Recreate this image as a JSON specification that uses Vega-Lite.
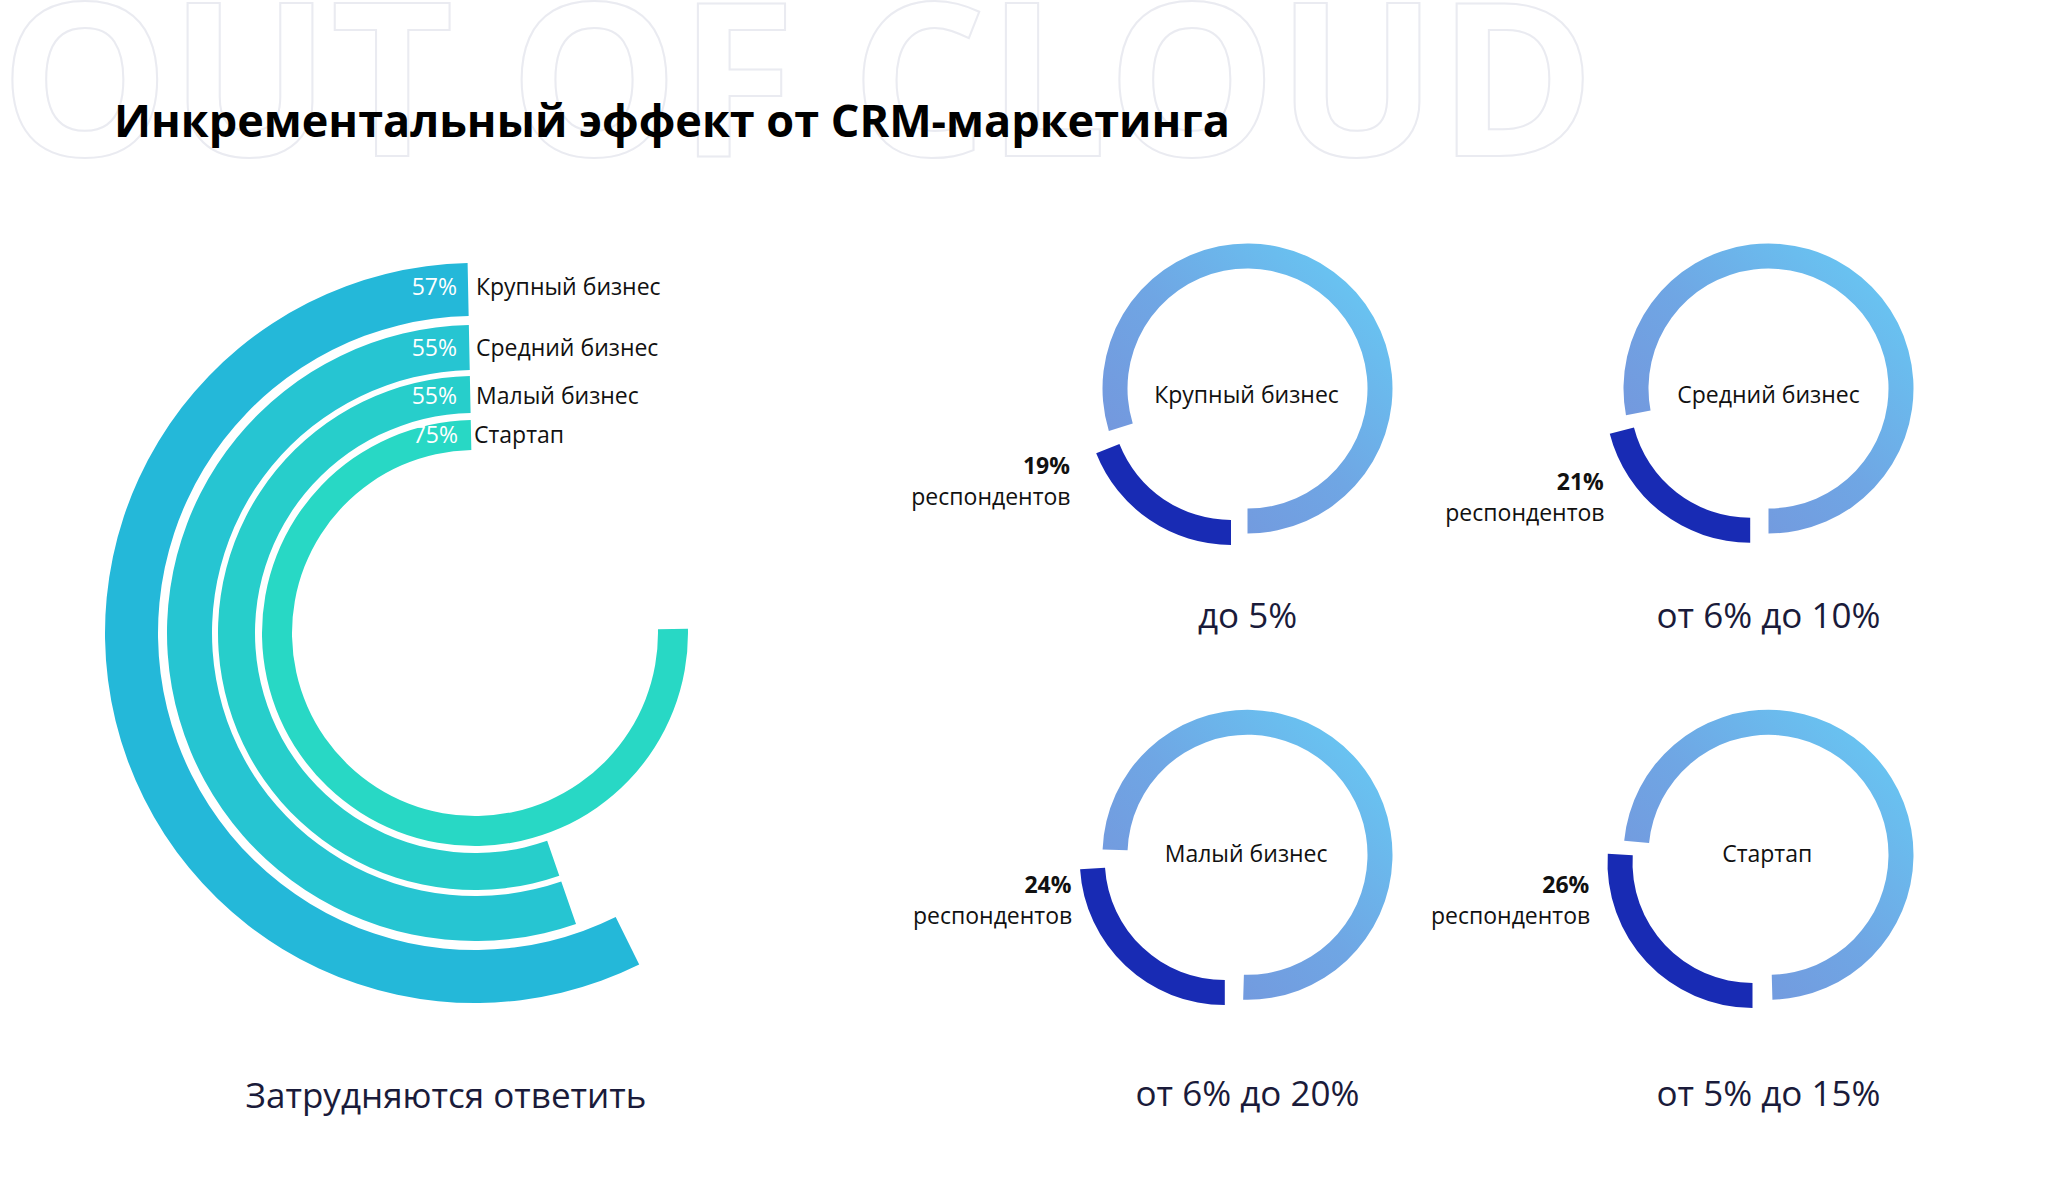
{
  "$schema": "https://vega.github.io/schema/vega-lite/v6.json",
  "padding": {"left": 0, "top": 0, "right": 0, "bottom": 40},
  "background": "#ffffff",
  "config": {"view": {"stroke": null}, "font": "Open Sans"},
  "datasets": {
    "headings": [
      {"kind": "watermark", "text": "OUT OF CLOUD"},
      {"kind": "title", "text": "Инкрементальный эффект от CRM-маркетинга"}
    ],
    "rings": [
      {"segment": "Крупный бизнес", "share": 0.57, "answer": "Затрудняются ответить"},
      {"segment": "Средний бизнес", "share": 0.55, "answer": "Затрудняются ответить"},
      {"segment": "Малый бизнес", "share": 0.55, "answer": "Затрудняются ответить"},
      {"segment": "Стартап", "share": 0.75, "answer": "Затрудняются ответить"}
    ],
    "donuts": [
      {"segment": "Крупный бизнес", "effect": "до 5%", "group": "выбрали", "share": 0.19},
      {"segment": "Крупный бизнес", "effect": "до 5%", "group": "остальные", "share": 0.81},
      {"segment": "Средний бизнес", "effect": "от 6% до 10%", "group": "выбрали", "share": 0.21},
      {"segment": "Средний бизнес", "effect": "от 6% до 10%", "group": "остальные", "share": 0.79},
      {"segment": "Малый бизнес", "effect": "от 6% до 20%", "group": "выбрали", "share": 0.24},
      {"segment": "Малый бизнес", "effect": "от 6% до 20%", "group": "остальные", "share": 0.76},
      {"segment": "Стартап", "effect": "от 5% до 15%", "group": "выбрали", "share": 0.26},
      {"segment": "Стартап", "effect": "от 5% до 15%", "group": "остальные", "share": 0.74}
    ]
  },
  "spacing": 0,
  "bounds": "flush",
  "vconcat": [
    {
      "width": 2048,
      "height": 170,
      "data": {"name": "headings"},
      "encoding": {
        "x": {"field": "kind", "type": "nominal", "axis": null,
              "scale": {"type": "point", "domain": ["watermark", "title"], "range": [0, 114], "padding": 0}},
        "y": {"field": "kind", "type": "nominal", "axis": null,
              "scale": {"type": "point", "domain": ["watermark", "title"], "range": [156, 137], "padding": 0}},
        "text": {"field": "text", "type": "nominal"}
      },
      "layer": [
        {
          "transform": [{"filter": "datum.kind === 'watermark'"}],
          "mark": {"type": "text", "align": "left", "baseline": "alphabetic", "fontSize": 213, "fontWeight": "bold",
                   "fill": "#ffffff", "stroke": "#EAEBF1", "strokeWidth": 2, "clip": true}
        },
        {
          "transform": [{"filter": "datum.kind === 'title'"}],
          "mark": {"type": "text", "align": "left", "baseline": "alphabetic", "fontSize": 45, "fontWeight": "bold", "fill": "#000000"}
        }
      ]
    },
    {
      "spacing": 57.5,
      "bounds": "flush",
      "hconcat": [
        {
          "width": 950,
          "height": 926,
          "data": {"name": "rings"},
          "layer": [
            {
              "transform": [{"filter": "datum.segment === 'Крупный бизнес'"}],
              "layer": [
                {"mark": {"type": "arc", "radius": 370, "radius2": 317, "thetaOffset": -0.02, "theta2Offset": -0.02},
                 "encoding": {
                   "theta": {"field": "share", "type": "quantitative", "scale": {"domain": [0, 1], "range": [6.283185, 0]}},
                   "color": {"field": "segment", "type": "nominal", "legend": null,
                             "scale": {"domain": ["Крупный бизнес", "Средний бизнес", "Малый бизнес", "Стартап"], "range": ["#24B8D9", "#26C5D2", "#27CECB", "#28D8C5"]}}
                 }},
                {"mark": {"type": "text", "align": "right", "baseline": "alphabetic", "dx": -18, "dy": -338, "fontSize": 23, "fill": "#ffffff"},
                 "encoding": {"text": {"field": "share", "type": "quantitative", "format": ".0%"}}},
                {"mark": {"type": "text", "align": "left", "baseline": "alphabetic", "dx": 1, "dy": -338, "fontSize": 23, "fill": "#111111"},
                 "encoding": {"text": {"field": "segment", "type": "nominal"}}}
              ]
            },
            {
              "transform": [{"filter": "datum.segment === 'Средний бизнес'"}],
              "layer": [
                {"mark": {"type": "arc", "radius": 308, "radius2": 263, "thetaOffset": -0.02, "theta2Offset": -0.02},
                 "encoding": {
                   "theta": {"field": "share", "type": "quantitative", "scale": {"domain": [0, 1], "range": [6.283185, 0]}},
                   "color": {"field": "segment", "type": "nominal", "legend": null}
                 }},
                {"mark": {"type": "text", "align": "right", "baseline": "alphabetic", "dx": -18, "dy": -277, "fontSize": 23, "fill": "#ffffff"},
                 "encoding": {"text": {"field": "share", "type": "quantitative", "format": ".0%"}}},
                {"mark": {"type": "text", "align": "left", "baseline": "alphabetic", "dx": 1, "dy": -277, "fontSize": 23, "fill": "#111111"},
                 "encoding": {"text": {"field": "segment", "type": "nominal"}}}
              ]
            },
            {
              "transform": [{"filter": "datum.segment === 'Малый бизнес'"}],
              "layer": [
                {"mark": {"type": "arc", "radius": 257, "radius2": 220, "thetaOffset": -0.02, "theta2Offset": -0.02},
                 "encoding": {
                   "theta": {"field": "share", "type": "quantitative", "scale": {"domain": [0, 1], "range": [6.283185, 0]}},
                   "color": {"field": "segment", "type": "nominal", "legend": null}
                 }},
                {"mark": {"type": "text", "align": "right", "baseline": "alphabetic", "dx": -18, "dy": -229, "fontSize": 23, "fill": "#ffffff"},
                 "encoding": {"text": {"field": "share", "type": "quantitative", "format": ".0%"}}},
                {"mark": {"type": "text", "align": "left", "baseline": "alphabetic", "dx": 1, "dy": -229, "fontSize": 23, "fill": "#111111"},
                 "encoding": {"text": {"field": "segment", "type": "nominal"}}}
              ]
            },
            {
              "transform": [{"filter": "datum.segment === 'Стартап'"}],
              "layer": [
                {"mark": {"type": "arc", "radius": 213, "radius2": 183, "thetaOffset": -0.02, "theta2Offset": -0.02},
                 "encoding": {
                   "theta": {"field": "share", "type": "quantitative", "scale": {"domain": [0, 1], "range": [6.283185, 0]}},
                   "color": {"field": "segment", "type": "nominal", "legend": null}
                 }},
                {"mark": {"type": "text", "align": "right", "baseline": "alphabetic", "dx": -17, "dy": -190, "fontSize": 23, "fill": "#ffffff"},
                 "encoding": {"text": {"field": "share", "type": "quantitative", "format": ".0%"}}},
                {"mark": {"type": "text", "align": "left", "baseline": "alphabetic", "dx": -1, "dy": -190, "fontSize": 23, "fill": "#111111"},
                 "encoding": {"text": {"field": "segment", "type": "nominal"}}}
              ]
            },
            {
              "transform": [{"aggregate": [{"op": "count", "as": "n"}], "groupby": ["answer"]}],
              "mark": {"type": "text", "dx": -29, "dy": 463.5, "baseline": "middle", "fontSize": 35, "fill": "#1A1B3A"},
              "encoding": {"text": {"field": "answer", "type": "nominal"}}
            }
          ]
        },
        {
          "spacing": 1.3,
          "bounds": "full",
          "vconcat": [
            {
              "spacing": 41,
              "bounds": "flush",
              "hconcat": [
                {
                  "width": 480, "height": 437,
                  "data": {"name": "donuts"},
                  "transform": [
                    {"filter": "datum.segment === 'Крупный бизнес'"},
                    {"stack": "share", "groupby": ["segment"], "sort": [{"field": "group", "order": "ascending"}], "as": ["start", "end"]}
                  ],
                  "encoding": {
                    "theta": {"field": "start", "type": "quantitative", "stack": null, "scale": {"domain": [0, 1], "range": [3.141593, 9.424778]}},
                    "theta2": {"field": "end"}
                  },
                  "layer": [
                    {"transform": [{"filter": "datum.group === 'остальные'"}],
                     "mark": {"type": "arc", "radius": 145, "radius2": 120, "thetaOffset": 0.08,
                              "fill": {"gradient": "linear", "x1": 1, "y1": 0, "x2": 0, "y2": 1,
                                       "stops": [{"offset": 0, "color": "#66CEF6"}, {"offset": 0.5, "color": "#6FA6E4"}, {"offset": 1, "color": "#7690DA"}]}}},
                    {"transform": [{"filter": "datum.group === 'выбрали'"}],
                     "layer": [
                       {"mark": {"type": "arc", "radius": 145, "radius2": 120, "xOffset": -16.5, "yOffset": 11.4, "fill": "#182BB4"}},
                       {"mark": {"type": "text", "baseline": "alphabetic", "dx": -1, "dy": 14.7, "fontSize": 23, "fill": "#111111"},
                        "encoding": {"text": {"field": "segment", "type": "nominal"}, "theta": null, "theta2": null}},
                       {"mark": {"type": "text", "baseline": "middle", "dx": 0, "dy": 228.5, "fontSize": 35, "fill": "#1A1B3A"},
                        "encoding": {"text": {"field": "effect", "type": "nominal"}, "theta": null, "theta2": null}},
                       {"mark": {"type": "text", "align": "right", "baseline": "alphabetic", "dx": -177.5, "dy": 85.4, "fontSize": 23, "fontWeight": "bold", "fill": "#111111"},
                        "encoding": {"text": {"field": "share", "type": "quantitative", "format": ".0%"}, "theta": null, "theta2": null}},
                       {"mark": {"type": "text", "align": "right", "baseline": "alphabetic", "dx": -177, "dy": 116.4, "fontSize": 23, "fill": "#111111"},
                        "encoding": {"text": {"value": "респондентов"}, "theta": null, "theta2": null}}
                     ]}
                  ]
                },
                {
                  "width": 480, "height": 437,
                  "data": {"name": "donuts"},
                  "transform": [
                    {"filter": "datum.segment === 'Средний бизнес'"},
                    {"stack": "share", "groupby": ["segment"], "sort": [{"field": "group", "order": "ascending"}], "as": ["start", "end"]}
                  ],
                  "encoding": {
                    "theta": {"field": "start", "type": "quantitative", "stack": null, "scale": {"domain": [0, 1], "range": [3.141593, 9.424778]}},
                    "theta2": {"field": "end"}
                  },
                  "layer": [
                    {"transform": [{"filter": "datum.group === 'остальные'"}],
                     "mark": {"type": "arc", "radius": 145, "radius2": 120, "thetaOffset": 0.066,
                              "fill": {"gradient": "linear", "x1": 1, "y1": 0, "x2": 0, "y2": 1,
                                       "stops": [{"offset": 0, "color": "#66CEF6"}, {"offset": 0.5, "color": "#6FA6E4"}, {"offset": 1, "color": "#7690DA"}]}}},
                    {"transform": [{"filter": "datum.group === 'выбрали'"}],
                     "layer": [
                       {"mark": {"type": "arc", "radius": 145, "radius2": 120, "xOffset": -18.3, "yOffset": 9.2, "fill": "#182BB4"}},
                       {"mark": {"type": "text", "baseline": "alphabetic", "dx": 0, "dy": 14.4, "fontSize": 23, "fill": "#111111"},
                        "encoding": {"text": {"field": "segment", "type": "nominal"}, "theta": null, "theta2": null}},
                       {"mark": {"type": "text", "baseline": "middle", "dx": 0, "dy": 228.5, "fontSize": 35, "fill": "#1A1B3A"},
                        "encoding": {"text": {"field": "effect", "type": "nominal"}, "theta": null, "theta2": null}},
                       {"mark": {"type": "text", "align": "right", "baseline": "alphabetic", "dx": -164.7, "dy": 101.7, "fontSize": 23, "fontWeight": "bold", "fill": "#111111"},
                        "encoding": {"text": {"field": "share", "type": "quantitative", "format": ".0%"}, "theta": null, "theta2": null}},
                       {"mark": {"type": "text", "align": "right", "baseline": "alphabetic", "dx": -164, "dy": 132.7, "fontSize": 23, "fill": "#111111"},
                        "encoding": {"text": {"value": "респондентов"}, "theta": null, "theta2": null}}
                     ]}
                  ]
                }
              ]
            },
            {
              "spacing": 41,
              "bounds": "flush",
              "hconcat": [
                {
                  "width": 480, "height": 437,
                  "data": {"name": "donuts"},
                  "transform": [
                    {"filter": "datum.segment === 'Малый бизнес'"},
                    {"stack": "share", "groupby": ["segment"], "sort": [{"field": "group", "order": "ascending"}], "as": ["start", "end"]}
                  ],
                  "encoding": {
                    "theta": {"field": "start", "type": "quantitative", "stack": null, "scale": {"domain": [0, 1], "range": [3.141593, 9.424778]}},
                    "theta2": {"field": "end"}
                  },
                  "layer": [
                    {"transform": [{"filter": "datum.group === 'остальные'"}],
                     "mark": {"type": "arc", "radius": 145, "radius2": 120, "thetaOffset": 0.1, "theta2Offset": 0.03,
                              "fill": {"gradient": "linear", "x1": 1, "y1": 0, "x2": 0, "y2": 1,
                                       "stops": [{"offset": 0, "color": "#66CEF6"}, {"offset": 0.5, "color": "#6FA6E4"}, {"offset": 1, "color": "#7690DA"}]}}},
                    {"transform": [{"filter": "datum.group === 'выбрали'"}],
                     "layer": [
                       {"mark": {"type": "arc", "radius": 145, "radius2": 120, "xOffset": -22.7, "yOffset": 5.3, "fill": "#182BB4"}},
                       {"mark": {"type": "text", "baseline": "alphabetic", "dx": -1.4, "dy": 6.7, "fontSize": 23, "fill": "#111111"},
                        "encoding": {"text": {"field": "segment", "type": "nominal"}, "theta": null, "theta2": null}},
                       {"mark": {"type": "text", "baseline": "middle", "dx": 0, "dy": 240.5, "fontSize": 35, "fill": "#1A1B3A"},
                        "encoding": {"text": {"field": "effect", "type": "nominal"}, "theta": null, "theta2": null}},
                       {"mark": {"type": "text", "align": "right", "baseline": "alphabetic", "dx": -176, "dy": 38, "fontSize": 23, "fontWeight": "bold", "fill": "#111111"},
                        "encoding": {"text": {"field": "share", "type": "quantitative", "format": ".0%"}, "theta": null, "theta2": null}},
                       {"mark": {"type": "text", "align": "right", "baseline": "alphabetic", "dx": -175.3, "dy": 69, "fontSize": 23, "fill": "#111111"},
                        "encoding": {"text": {"value": "респондентов"}, "theta": null, "theta2": null}}
                     ]}
                  ]
                },
                {
                  "width": 480, "height": 437,
                  "data": {"name": "donuts"},
                  "transform": [
                    {"filter": "datum.segment === 'Стартап'"},
                    {"stack": "share", "groupby": ["segment"], "sort": [{"field": "group", "order": "ascending"}], "as": ["start", "end"]}
                  ],
                  "encoding": {
                    "theta": {"field": "start", "type": "quantitative", "stack": null, "scale": {"domain": [0, 1], "range": [3.141593, 9.424778]}},
                    "theta2": {"field": "end"}
                  },
                  "layer": [
                    {"transform": [{"filter": "datum.group === 'остальные'"}],
                     "mark": {"type": "arc", "radius": 145, "radius2": 120, "thetaOffset": 0.035, "theta2Offset": -0.027,
                              "fill": {"gradient": "linear", "x1": 1, "y1": 0, "x2": 0, "y2": 1,
                                       "stops": [{"offset": 0, "color": "#66CEF6"}, {"offset": 0.5, "color": "#6FA6E4"}, {"offset": 1, "color": "#7690DA"}]}}},
                    {"transform": [{"filter": "datum.group === 'выбрали'"}],
                     "layer": [
                       {"mark": {"type": "arc", "radius": 145, "radius2": 120, "xOffset": -16, "yOffset": 8.1, "fill": "#182BB4"}},
                       {"mark": {"type": "text", "baseline": "alphabetic", "dx": -1.3, "dy": 7.3, "fontSize": 23, "fill": "#111111"},
                        "encoding": {"text": {"field": "segment", "type": "nominal"}, "theta": null, "theta2": null}},
                       {"mark": {"type": "text", "baseline": "middle", "dx": 0, "dy": 240.5, "fontSize": 35, "fill": "#1A1B3A"},
                        "encoding": {"text": {"field": "effect", "type": "nominal"}, "theta": null, "theta2": null}},
                       {"mark": {"type": "text", "align": "right", "baseline": "alphabetic", "dx": -179.2, "dy": 38, "fontSize": 23, "fontWeight": "bold", "fill": "#111111"},
                        "encoding": {"text": {"field": "share", "type": "quantitative", "format": ".0%"}, "theta": null, "theta2": null}},
                       {"mark": {"type": "text", "align": "right", "baseline": "alphabetic", "dx": -178.3, "dy": 69, "fontSize": 23, "fill": "#111111"},
                        "encoding": {"text": {"value": "респондентов"}, "theta": null, "theta2": null}}
                     ]}
                  ]
                }
              ]
            }
          ]
        }
      ]
    }
  ]
}
